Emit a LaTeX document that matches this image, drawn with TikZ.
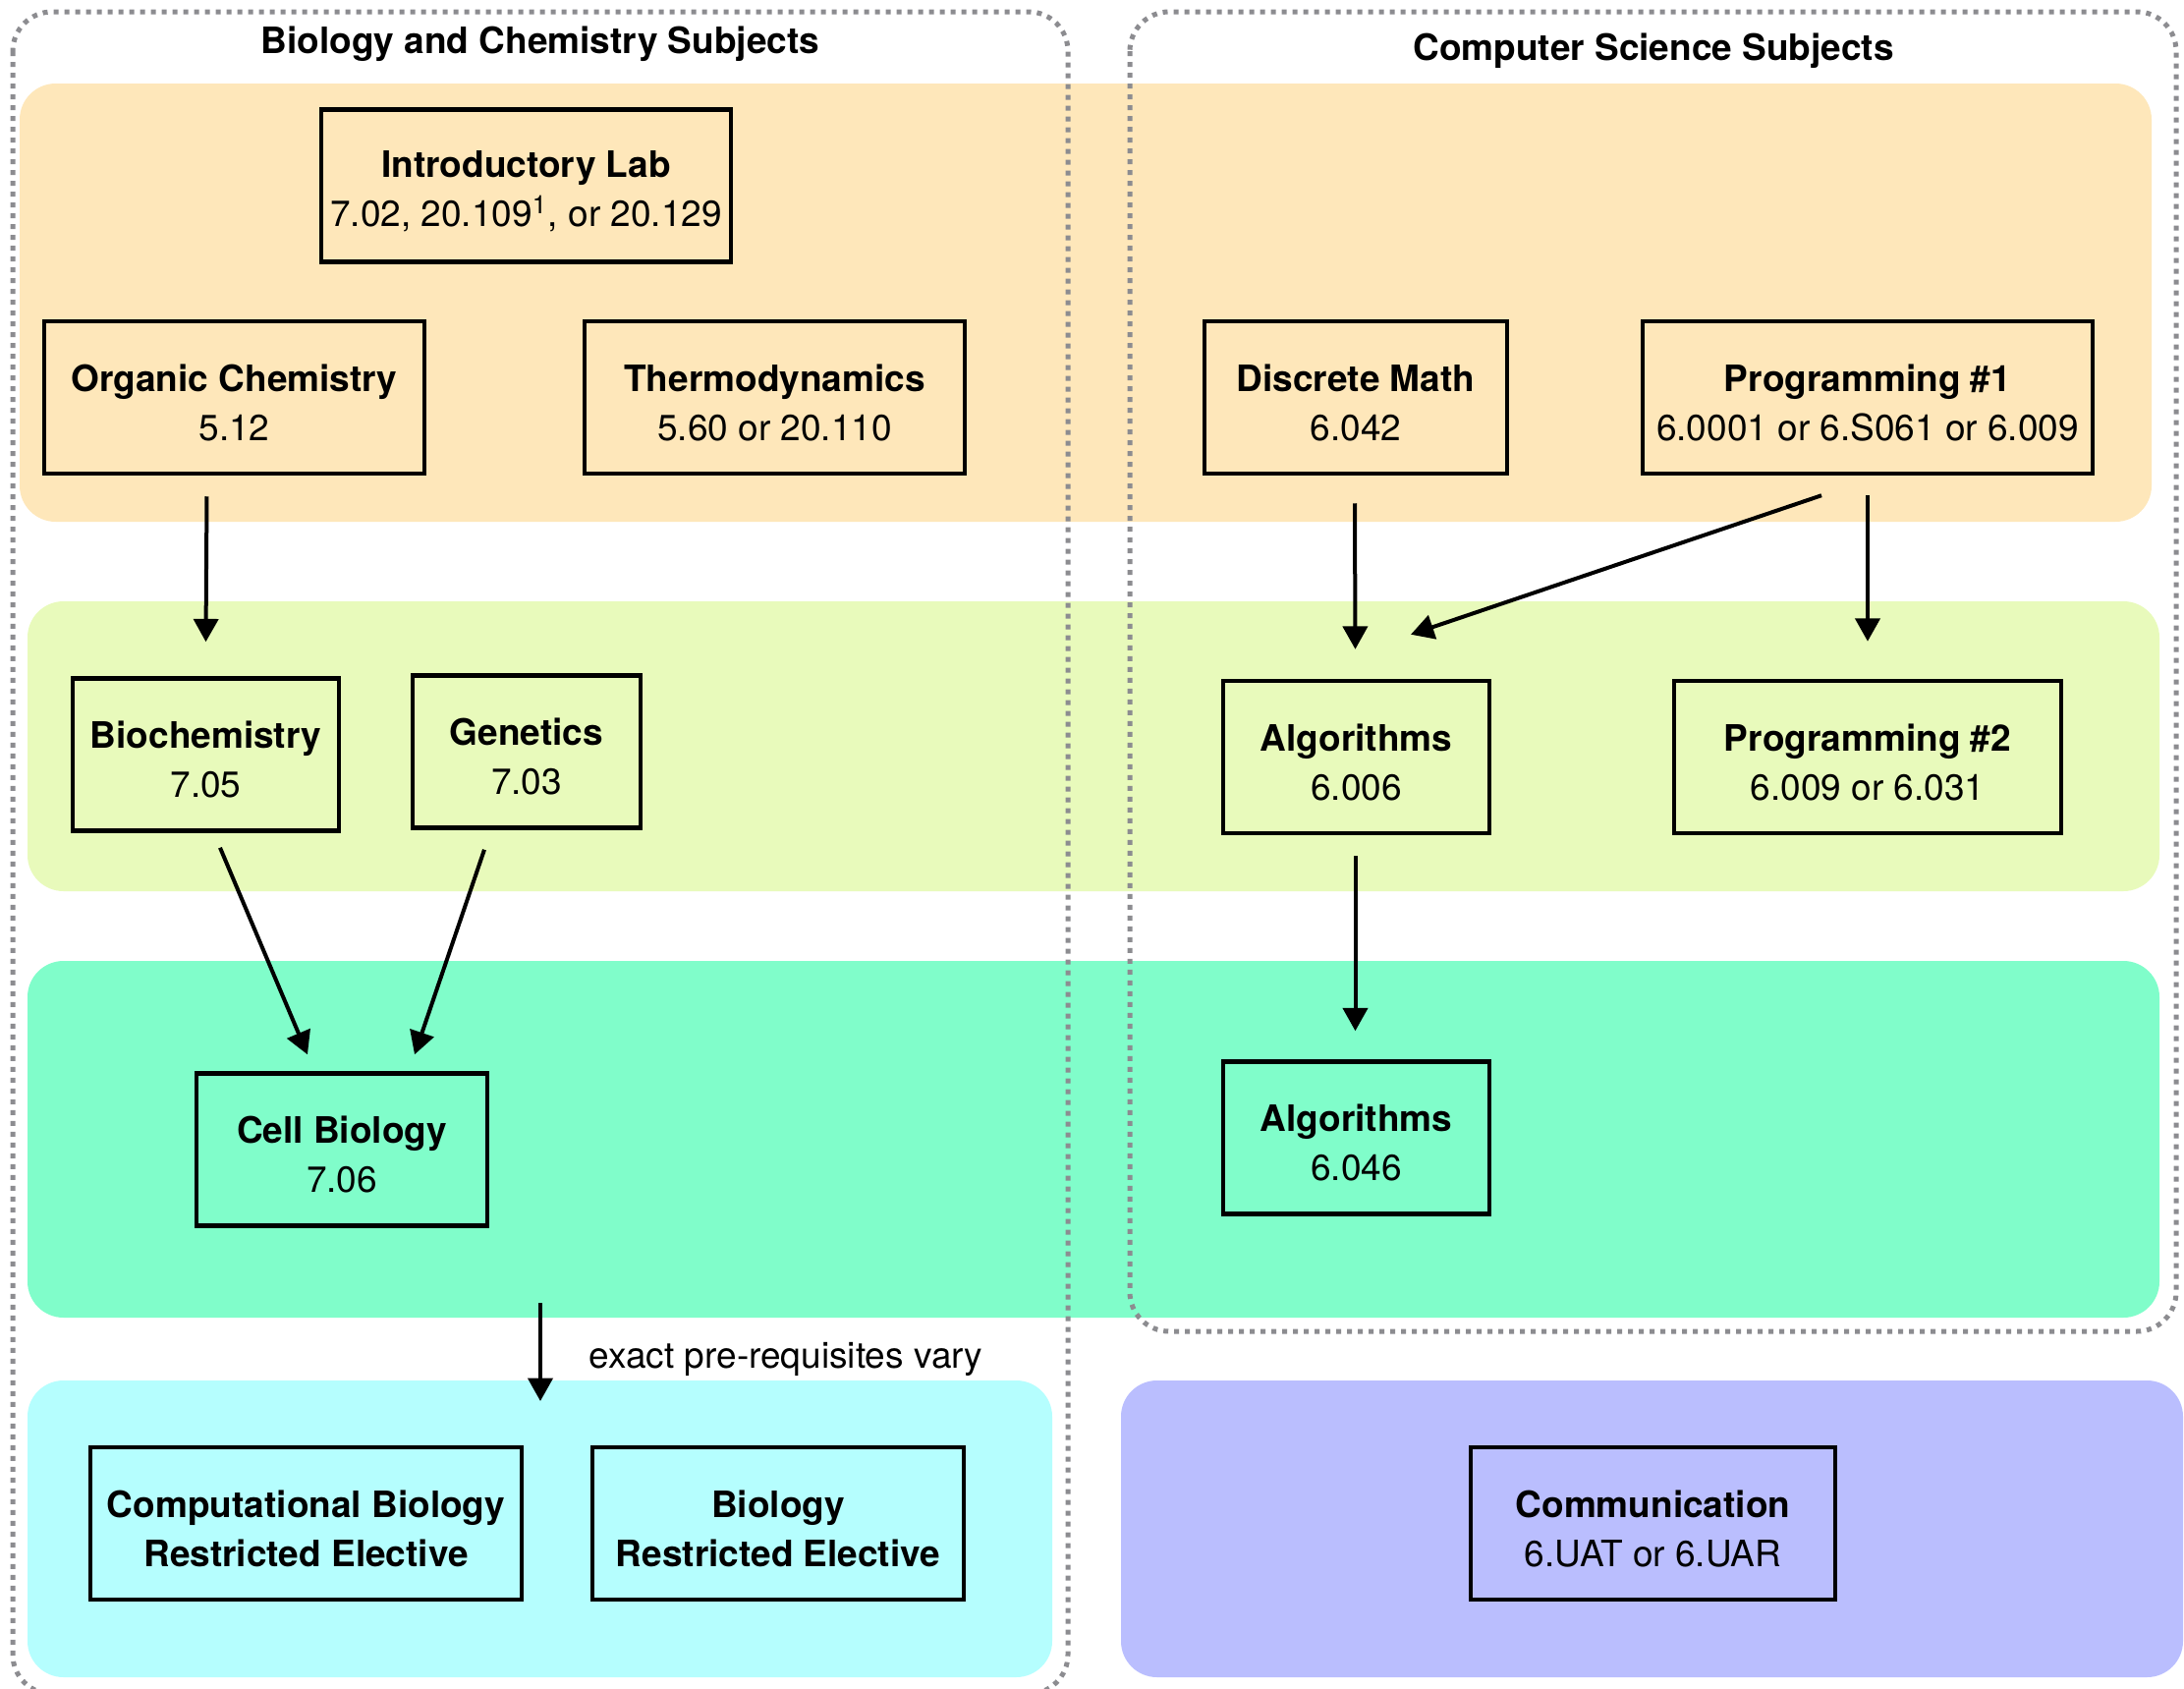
\documentclass[tikz,border=0pt]{standalone}
\usepackage{fontspec}
\setmainfont{TeX Gyre Heros}
\usetikzlibrary{arrows.meta,calc}

\definecolor{bandorange}{HTML}{FEE7BA}
\definecolor{bandlime}{HTML}{E8FABB}
\definecolor{bandgreen}{HTML}{80FDCA}
\definecolor{bandcyan}{HTML}{B5FEFE}
\definecolor{bandpurple}{HTML}{BABEFE}
\definecolor{groupgray}{HTML}{8C8C90}

\newcommand{\coursefont}{\fontsize{11.1pt}{15pt}\selectfont}
\newcommand{\crs}[2]{\rule{0pt}{11.4pt}#1\\#2}

\tikzset{
  band/.style={rounded corners=11pt},
  group/.style={draw=groupgray, line width=1.5pt, dash pattern=on 1.5pt off 1.8pt, rounded corners=12pt},
  course/.style={draw, line width=1.35pt, minimum height=46.5pt, align=center, inner sep=2pt, font=\coursefont},
  grouptitle/.style={anchor=base, font=\coursefont\bfseries},
  note/.style={font=\coursefont},
  prereq/.style={line width=1.2pt, -{Triangle[length=7pt,width=7.5pt]}},
}

\begin{document}
\begin{tikzpicture}[x=0.3pt,y=0.3pt,yscale=-1]
    \useasboundingbox (0,0) rectangle (2223,1719);

    %Bands
    \fill [band, bandorange] (20,85) rectangle (2190,531);
    \fill [band, bandlime] (28,612) rectangle (2198,907);
    \fill [band, bandgreen] (28,978) rectangle (2198,1341);
    \fill [band, bandcyan] (28,1405) rectangle (1071,1707);
    \fill [band, bandpurple] (1141,1405) rectangle (2222,1707);

    %Groups
    \draw [group] (13,12) rectangle (1087,1724);
    \draw [group] (1150,12) rectangle (2215,1355);

    % Group titles
    \node [grouptitle] (biotitle) at (550,54) {Biology and Chemistry Subjects};
    \node [grouptitle] (cstitle) at (1683,61) {Computer Science Subjects};

    % Courses
    \node [course, minimum width=125pt] (intro) at (535.5,189) {\crs{\textbf{Introductory Lab}}{7.02, 20.109\textsuperscript{1}, or 20.129}};
    \node [course, minimum width=116pt] (orgchem) at (238.5,404.5) {\crs{\textbf{Organic Chemistry}}{5.12}};
    \node [course, minimum width=116pt] (thermo) at (788.5,404.5) {\crs{\textbf{Thermodynamics}}{5.60 or 20.110}};
    \node [course, minimum width=92.4pt] (discrete) at (1380,404.5) {\crs{\textbf{Discrete Math}}{6.042}};
    \node [course, minimum width=137.4pt] (progone) at (1901,404.5) {\crs{\textbf{Programming \#1}}{6.0001 or 6.S061 or 6.009}};

    \node [course, minimum width=81.3pt] (biochem) at (209.5,768) {\crs{\textbf{Biochemistry}}{7.05}};
    \node [course, minimum width=69.6pt] (genetics) at (536,765) {\crs{\textbf{Genetics}}{7.03}};
    \node [course, minimum width=81.3pt] (algone) at (1380.5,770.5) {\crs{\textbf{Algorithms}}{6.006}};
    \node [course, minimum width=118.2pt] (progtwo) at (1901,770.5) {\crs{\textbf{Programming \#2}}{6.009 or 6.031}};

    \node [course, minimum width=88.8pt] (cellbio) at (348,1170) {\crs{\textbf{Cell Biology}}{7.06}};
    \node [course, minimum width=81.3pt] (algtwo) at (1380.5,1158) {\crs{\textbf{Algorithms}}{6.046}};

    \node [course, minimum width=131.7pt] (compbio) at (311.5,1550.5) {\crs{\textbf{Computational Biology}}{\textbf{Restricted Elective}}};
    \node [course, minimum width=113.4pt] (bioelec) at (792,1550.5) {\crs{\textbf{Biology}}{\textbf{Restricted Elective}}};
    \node [course, minimum width=111.3pt] (comm) at (1682.5,1550.5) {\crs{\textbf{Communication}}{6.UAT or 6.UAR}};

    \coordinate (varytop) at (550,1326);
    \coordinate (varybot) at (550,1426);

    % Prerequisites
    \draw [prereq] ($(orgchem.south)+(-28,21)$) -- ($(biochem.north)+(0,-35)$);
    \draw [prereq] ($(discrete.south)+(-1,28)$) -- ($(algone.north)+(-1,-30)$);
    \draw [prereq] ($(progone.south)+(-47,20)$) -- ($(algone.north)+(55.5,-45)$);
    \draw [prereq] ($(progone.south)+(0,20)$) -- ($(progtwo.north)+(0,-38)$);
    \draw [prereq] ($(biochem.south)+(14.5,15)$) -- ($(cellbio.north)+(-35,-17)$);
    \draw [prereq] ($(genetics.south)+(-43,20)$) -- ($(cellbio.north)+(74,-17)$);
    \draw [prereq] ($(algone.south)+(-1,21)$) -- ($(algtwo.north)+(-1,-29)$);
    \draw [prereq] (varytop) -- node [note, pos=0.57, right=11pt] (varynote) {exact pre-requisites vary} (varybot);

\end{tikzpicture}
\end{document}
